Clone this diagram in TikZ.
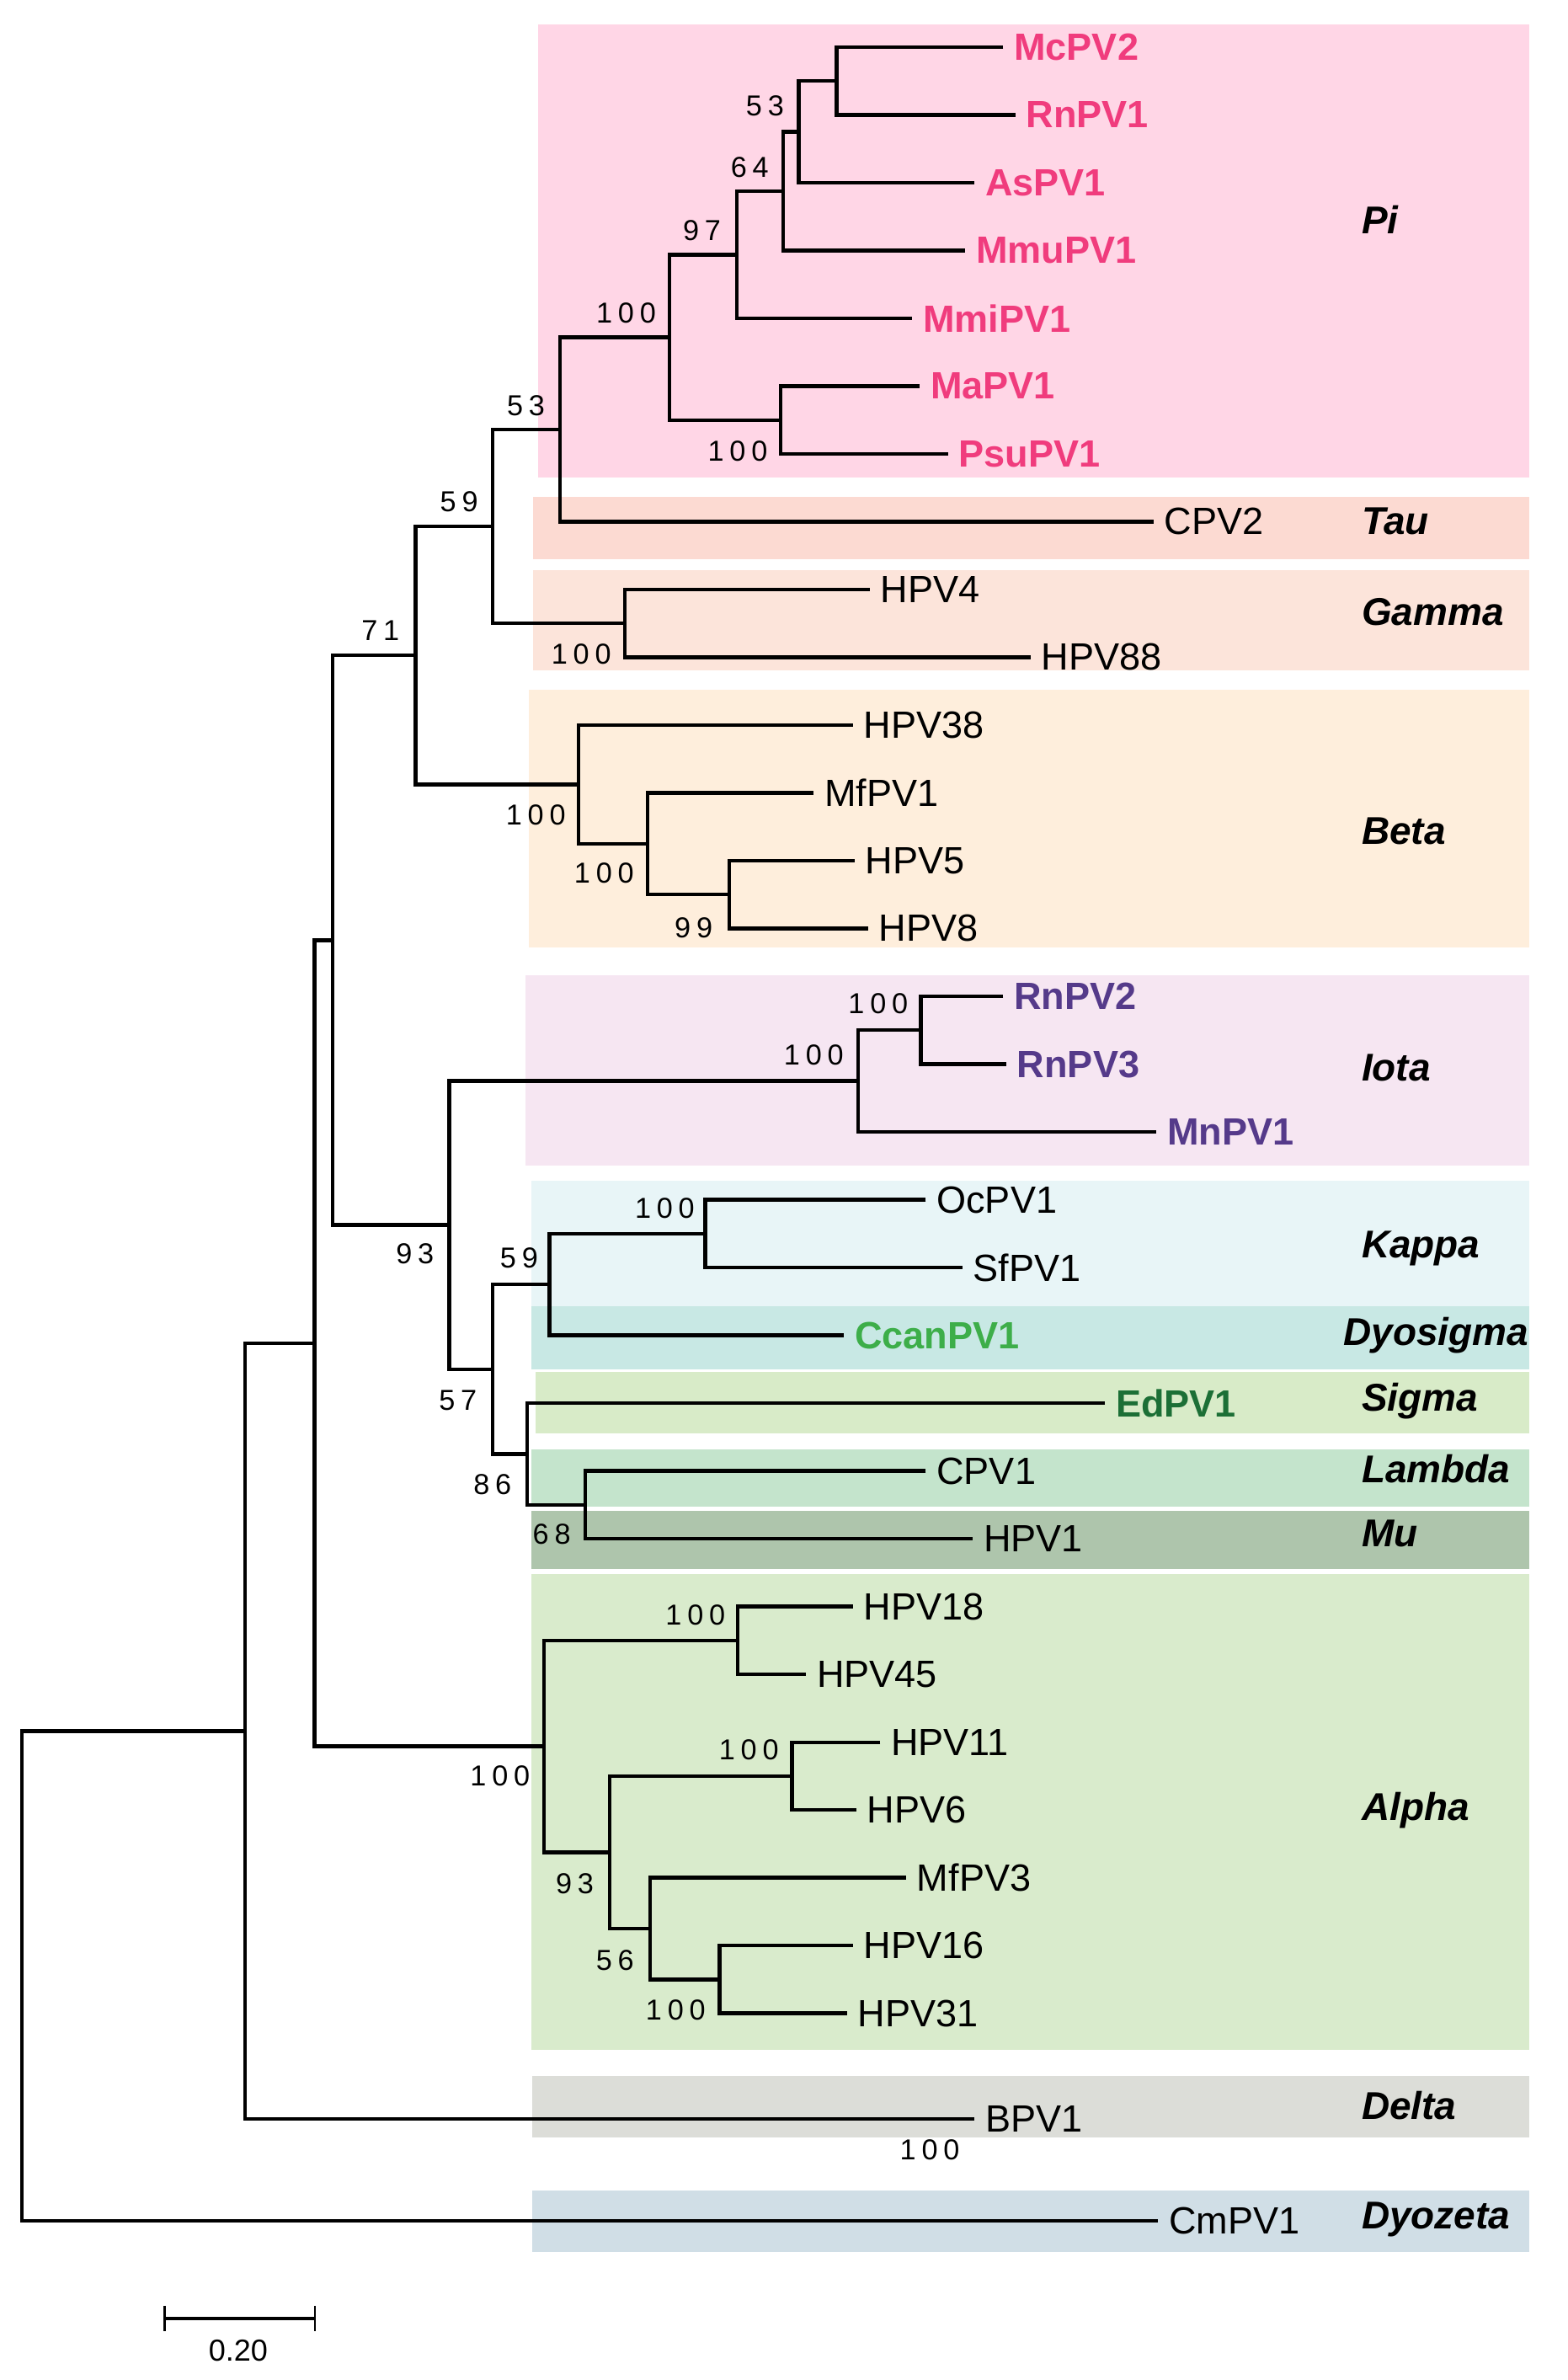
\documentclass[tikz,border=0pt]{standalone}
\usepackage{fontspec}
\setmainfont{Liberation Sans}
\newfontfamily\bsfont[LetterSpace=20]{Liberation Sans}
\definecolor{cPi}{RGB}{255,214,230}
\definecolor{cTau}{RGB}{252,218,210}
\definecolor{cGamma}{RGB}{252,228,218}
\definecolor{cBeta}{RGB}{254,238,220}
\definecolor{cIota}{RGB}{246,230,242}
\definecolor{cKappa}{RGB}{232,245,247}
\definecolor{cDyosigma}{RGB}{200,232,228}
\definecolor{cSigma}{RGB}{216,235,200}
\definecolor{cLambda}{RGB}{196,228,204}
\definecolor{cMu}{RGB}{174,197,172}
\definecolor{cAlpha}{RGB}{217,235,204}
\definecolor{cDelta}{RGB}{220,221,216}
\definecolor{cDyozeta}{RGB}{208,222,230}
\definecolor{tPi}{RGB}{240,60,125}
\definecolor{tIota}{RGB}{85,58,138}
\definecolor{tCcan}{RGB}{61,174,73}
\definecolor{tEd}{RGB}{28,111,54}
\begin{document}
\begin{tikzpicture}[x=1pt,y=-1pt,
  br/.style={line width=2.4pt, line join=miter},
  leaf/.style={anchor=west, inner xsep=7pt, inner ysep=0pt, font=\fontsize{25}{25}\selectfont},
  pileaf/.style={leaf, text=tPi, font=\fontsize{25}{25}\selectfont\bfseries},
  ioleaf/.style={leaf, text=tIota, font=\fontsize{25}{25}\selectfont\bfseries},
  bs/.style={inner sep=0pt, font=\bsfont\fontsize{19}{19}\selectfont},
  clade/.style={anchor=base west, inner sep=0pt, font=\fontsize{25.5}{25.5}\selectfont\bfseries\itshape},
  band/.style={draw=none}
]
\useasboundingbox[fill=white] (0,0) rectangle (1033,1568);

% ---- coloured bands
\fill[cPi]       (354.5,16)    rectangle (1007.5,314.7);
\fill[cTau]      (351,327.6)   rectangle (1007.5,368.5);
\fill[cGamma]    (351,375.5)   rectangle (1007.5,441.7);
\fill[cBeta]     (348.7,454.6) rectangle (1007.5,624);
\fill[cIota]     (346.4,642.7) rectangle (1007.5,768);
\fill[cKappa]    (350,777.7)   rectangle (1007.5,860.5);
\fill[cDyosigma] (350,860.5)   rectangle (1007.5,902.4);
\fill[cSigma]    (353,903.9)   rectangle (1007.5,944.1);
\fill[cLambda]   (350,954.8)   rectangle (1007.5,992.4);
\fill[cMu]       (350,995.3)   rectangle (1007.5,1033.8);
\fill[cAlpha]    (350,1037.1)  rectangle (1007.5,1350.5);
\fill[cDelta]    (350.5,1367.7) rectangle (1007.5,1408.4);
\fill[cDyozeta]  (350.5,1443.2) rectangle (1007.5,1483.9);

% ---- clade names
\node[clade] (nPi)       at (897,154)    {Pi};
\node[clade] (nTau)      at (897,352)    {Tau};
\node[clade] (nGamma)    at (897,412)    {Gamma};
\node[clade] (nBeta)     at (897,556)    {Beta};
\node[clade] (nIota)     at (897,712)    {Iota};
\node[clade] (nKappa)    at (897,828.4)  {Kappa};
\node[clade] (nDyosigma) at (885,886.4)  {Dyosigma};
\node[clade] (nSigma)    at (897,929.4)  {Sigma};
\node[clade] (nLambda)   at (897,977)    {Lambda};
\node[clade] (nMu)       at (897,1019)   {Mu};
\node[clade] (nAlpha)    at (897,1199.4) {Alpha};
\node[clade] (nDelta)    at (897,1396)   {Delta};
\node[clade] (nDyozeta)  at (897,1468.4) {Dyozeta};

% ---- leaves
\node[pileaf] (McPV2)  at (661,31.0)   {McPV2};
\node[pileaf] (RnPV1)  at (669,75.7)   {RnPV1};
\node[pileaf] (AsPV1)  at (642,120.3)  {AsPV1};
\node[pileaf] (MmuPV1) at (636,165.0)  {MmuPV1};
\node[pileaf] (MmiPV1) at (601,209.7)  {MmiPV1};
\node[pileaf] (MaPV1)  at (606,254.4)  {MaPV1};
\node[pileaf] (PsuPV1) at (624.5,299.0) {PsuPV1};
\node[leaf] (CPV2)   at (760,343.7)  {CPV2};
\node[leaf] (HPV4)   at (573,388.4)  {HPV4};
\node[leaf] (HPV88)  at (679,433.0)  {HPV88};
\node[leaf] (HPV38)  at (562,477.7)  {HPV38};
\node[leaf] (MfPV1)  at (536,522.4)  {MfPV1};
\node[leaf] (HPV5)   at (563,567.0)  {HPV5};
\node[leaf] (HPV8)   at (572,611.7)  {HPV8};
\node[ioleaf] (RnPV2) at (661,656.4) {RnPV2};
\node[ioleaf] (RnPV3) at (663,701.1) {RnPV3};
\node[ioleaf] (MnPV1) at (762,745.7) {MnPV1};
\node[leaf] (OcPV1)  at (610,790.4)  {OcPV1};
\node[leaf] (SfPV1)  at (634,835.1)  {SfPV1};
\node[leaf, text=tCcan, font=\fontsize{25}{25}\selectfont\bfseries] (CcanPV1) at (556,879.7) {CcanPV1};
\node[leaf, text=tEd, font=\fontsize{25}{25}\selectfont\bfseries] (EdPV1) at (728,924.4) {EdPV1};
\node[leaf] (CPV1)   at (610,969.1)  {CPV1};
\node[leaf] (HPV1)   at (641,1013.7) {HPV1};
\node[leaf] (HPV18)  at (562,1058.4) {HPV18};
\node[leaf] (HPV45)  at (531,1103.1) {HPV45};
\node[leaf] (HPV11)  at (580,1147.8) {HPV11};
\node[leaf] (HPV6)   at (564,1192.4) {HPV6};
\node[leaf] (MfPV3)  at (597,1237.1) {MfPV3};
\node[leaf] (HPV16)  at (562,1281.8) {HPV16};
\node[leaf] (HPV31)  at (558,1326.4) {HPV31};
\node[leaf] (BPV1)   at (642,1396)   {BPV1};
\node[leaf] (CmPV1)  at (763,1463)   {CmPV1};

% ---- internal nodes
\coordinate (A)  at (551.3,53.35);
\coordinate (B)  at (526.3,86.8);
\coordinate (C)  at (516.1,125.9);
\coordinate (D)  at (485.3,167.8);
\coordinate (F)  at (514.3,276.7);
\coordinate (E)  at (441.1,222.25);
\coordinate (G)  at (368.8,283.0);
\coordinate (Gm) at (411.7,410.7);
\coordinate (H)  at (324.7,346.85);
\coordinate (B58) at (480.4,589.35);
\coordinate (Bs) at (426.8,555.9);
\coordinate (Bt) at (381.3,516.8);
\coordinate (I)  at (273.8,431.8);
\coordinate (Rn23) at (606.7,678.75);
\coordinate (Io) at (565.2,712.2);
\coordinate (Kp) at (464.7,812.75);
\coordinate (P)  at (362.1,846.2);
\coordinate (R2) at (385.7,991.4);
\coordinate (Q)  at (347.4,957.9);
\coordinate (O)  at (324.7,902.05);
\coordinate (N)  at (296.0,807.1);
\coordinate (J)  at (219.2,619.45);
\coordinate (A1845) at (486.1,1080.75);
\coordinate (A116)  at (521.8,1170.1);
\coordinate (A1631) at (474.1,1304.1);
\coordinate (AC) at (428.3,1270.6);
\coordinate (AB) at (401.8,1220.35);
\coordinate (AA) at (358.5,1150.55);
\coordinate (L)  at (207.2,885);
\coordinate (M)  at (161.4,1140.5);
\coordinate (Root) at (14.5,1301.75);

% ---- branches
\draw[br] (McPV2.west) -| (A) |- (RnPV1.west);
\draw[br] (A) -| (B) |- (AsPV1.west);
\draw[br] (B) -| (C) |- (MmuPV1.west);
\draw[br] (C) -| (D) |- (MmiPV1.west);
\draw[br] (MaPV1.west) -| (F) |- (PsuPV1.west);
\draw[br] (D) -| (E) |- (F);
\draw[br] (E) -| (G) |- (CPV2.west);
\draw[br] (HPV4.west) -| (Gm) |- (HPV88.west);
\draw[br] (G) -| (H) |- (Gm);
\draw[br] (HPV5.west) -| (B58) |- (HPV8.west);
\draw[br] (MfPV1.west) -| (Bs) |- (B58);
\draw[br] (HPV38.west) -| (Bt) |- (Bs);
\draw[br] (H) -| (I) |- (Bt);
\draw[br] (RnPV2.west) -| (Rn23) |- (RnPV3.west);
\draw[br] (Rn23) -| (Io) |- (MnPV1.west);
\draw[br] (OcPV1.west) -| (Kp) |- (SfPV1.west);
\draw[br] (Kp) -| (P) |- (CcanPV1.west);
\draw[br] (CPV1.west) -| (R2) |- (HPV1.west);
\draw[br] (EdPV1.west) -| (Q) |- (R2);
\draw[br] (P) -| (O) |- (Q);
\draw[br] (Io) -| (N) |- (O);
\draw[br] (I) -| (J) |- (N);
\draw[br] (HPV18.west) -| (A1845) |- (HPV45.west);
\draw[br] (HPV11.west) -| (A116) |- (HPV6.west);
\draw[br] (HPV16.west) -| (A1631) |- (HPV31.west);
\draw[br] (MfPV3.west) -| (AC) |- (A1631);
\draw[br] (A116) -| (AB) |- (AC);
\draw[br] (A1845) -| (AA) |- (AB);
\draw[br] (J) -| (L) |- (AA);
\draw[br] (L) -| (M) |- (BPV1.west);
\draw[br] (M) -| (Root) |- (CmPV1.west);

% ---- bootstrap values
\node[bs] (b1)  at (504,70)      {53};
\node[bs] (b2)  at (494,110)     {64};
\node[bs] (b3)  at (462.5,152)   {97};
\node[bs] (b4)  at (412.5,206.5) {100};
\node[bs] (b5)  at (486,297.4)   {100};
\node[bs] (b6)  at (346.5,267.5) {53};
\node[bs] (b7)  at (302.5,330.3) {59};
\node[bs] (b8)  at (250.7,415.3) {71};
\node[bs] (b9)  at (383,431)     {100};
\node[bs] (b10) at (353,537)     {100};
\node[bs] (b11) at (398,575)     {100};
\node[bs] (b12) at (457,611)     {99};
\node[bs] (b13) at (578.6,661.3) {100};
\node[bs] (b14) at (536.2,694.8) {100};
\node[bs] (b15) at (273.4,826)   {93};
\node[bs] (b16) at (438,796)     {100};
\node[bs] (b17) at (342,829)     {59};
\node[bs] (b18) at (301.7,922.4) {57};
\node[bs] (b19) at (324.5,978)   {86};
\node[bs] (b20) at (363.5,1011)  {68};
\node[bs] (b21) at (458.2,1064.2) {100};
\node[bs] (b22) at (493.4,1152.6) {100};
\node[bs] (b23) at (329.5,1170)  {100};
\node[bs] (b24) at (378.7,1240.8) {93};
\node[bs] (b25) at (405.2,1291.6) {56};
\node[bs] (b26) at (445.2,1324.3) {100};
\node[bs] (b27) at (612.6,1416.4) {100};

% ---- scale bar
\coordinate (s1) at (108.7,1527.4);
\coordinate (s2) at (207.5,1527.4);
\draw[br] (s1) -- (s2);
\draw[line width=1.6pt] ([yshift=8.3pt]s1) -- ([yshift=-8.3pt]s1);
\draw[line width=1.6pt] ([yshift=8.3pt]s2) -- ([yshift=-8.3pt]s2);
\node[inner sep=0pt, font=\fontsize{20}{20}\selectfont] (scale) at (157,1548.7) {0.20};
\end{tikzpicture}
\end{document}
